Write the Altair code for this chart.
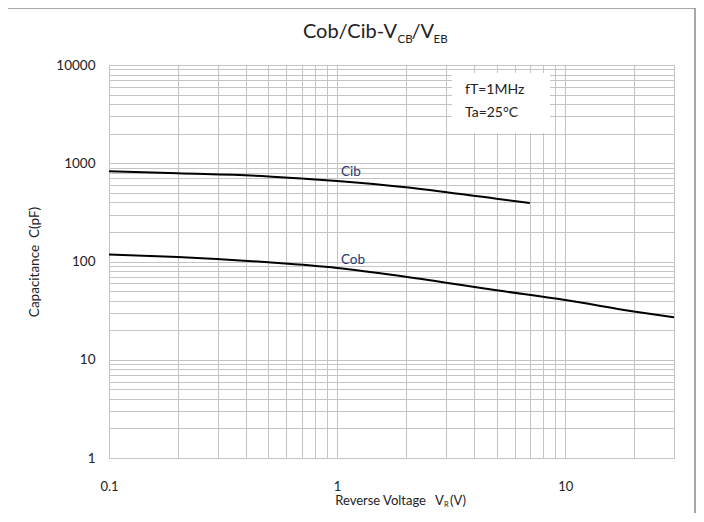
import altair as alt
import pandas as pd

# ---- data ----
cib_v = [0.1, 0.2, 0.5, 1, 2, 5, 7]
cib_c = [830, 790, 735, 660, 570, 435, 395]
cob_v = [0.1, 0.2, 0.5, 1, 2, 5, 10, 20, 30]
cob_c = [118, 111, 98, 86, 70, 51, 40.5, 31, 27]

x_grid = [0.1, 0.2, 0.3, 0.4, 0.5, 0.6, 0.7, 0.8, 0.9,
          1, 2, 3, 4, 5, 6, 7, 8, 9, 10, 20, 30]
y_grid = [1, 2, 3, 4, 5, 6, 7, 8, 9,
          10, 20, 30, 40, 50, 60, 70, 80, 90,
          100, 200, 300, 400, 500, 600, 700, 800, 900,
          1000, 2000, 3000, 4000, 5000, 6000, 7000, 8000, 9000, 10000]
x_labels = [0.1, 1, 10]
y_labels = [1, 10, 100, 1000, 10000]

curve_names = ["Cib", "Cob"]
curve_label_v = [1.04, 1.04]
curve_label_c = [815, 103]

FONT = "Lato"
TXT = "#222222"
NAVY = "#1f3a6e"
NB = "\u00a0"

curves = pd.DataFrame(
    {"series": ["Cib"] * len(cib_v) + ["Cob"] * len(cob_v),
     "V": cib_v + cob_v,
     "C": cib_c + cob_c}
)
labels_df = pd.DataFrame({"name": curve_names, "V": curve_label_v, "C": curve_label_c})
one = pd.DataFrame({"k": [0]})

x_expr = " || ".join(f"datum.value == {v}" for v in x_labels)
y_expr = " || ".join(f"datum.value == {v}" for v in y_labels)

xscale = alt.Scale(type="log", domain=[0.1, 30], nice=False)
yscale = alt.Scale(type="log", domain=[1, 10000], nice=False)

xaxis = alt.Axis(values=x_grid, title=None, ticks=False, domain=False,
                 labelExpr=f"({x_expr}) ? format(datum.value, '~g') : ''",
                 labelOverlap=False, labelFlush=False, labelPadding=22,
                 labelFontSize=13, labelFont=FONT, labelColor=TXT,
                 gridColor="#c4c4c4", gridWidth=1)
yaxis = alt.Axis(values=y_grid, title=None, ticks=False, domain=False,
                 labelExpr=f"({y_expr}) ? format(datum.value, 'd') : ''",
                 labelOverlap=False, labelFlush=False, labelPadding=14,
                 labelFontSize=13.5, labelFont=FONT, labelColor=TXT,
                 gridColor="#c4c4c4", gridWidth=1)

lines = alt.Chart(curves).mark_line(color="black", strokeWidth=2, interpolate="monotone").encode(
    x=alt.X("V:Q", scale=xscale, axis=xaxis),
    y=alt.Y("C:Q", scale=yscale, axis=yaxis),
    detail="series:N",
)

curve_text = alt.Chart(labels_df).mark_text(align="left", baseline="middle", font=FONT,
                                             fontSize=13.5, color=NAVY).encode(
    x=alt.X("V:Q", scale=xscale), y=alt.Y("C:Q", scale=yscale), text="name:N"
)

def txt(text, x, y, size, align="left", baseline="alphabetic", angle=0, color=TXT):
    kw = dict(align=align, baseline=baseline, font=FONT, fontSize=size, color=color, text=text)
    if angle:
        kw["angle"] = angle
    return alt.Chart(one).mark_text(**kw).encode(x=alt.value(x), y=alt.value(y))

# white box behind the conditions text
box = alt.Chart(one).mark_rect(color="white").encode(
    x=alt.value(343), x2=alt.value(441), y=alt.value(8), y2=alt.value(68))

# outer frame
frame = alt.Chart(one).mark_rect(filled=False, stroke="#8c8c8c", strokeWidth=1.5).encode(
    x=alt.value(-102), x2=alt.value(586), y=alt.value(-57), y2=alt.value(480))

layers = [
    box, lines, curve_text,
    txt("fT=1MHz", 356, 25, 14, baseline="middle"),
    txt("Ta=25°C", 356, 48, 14, baseline="middle"),
    # title with subscripts
    txt("Cob/Cib-V", 288, -27, 20, align="right"),
    txt("CB", 288.5, -22, 11.5),
    txt("/V", 302.5, -27, 20),
    txt("EB", 324.5, -22, 11.5),
    # x-axis title with subscript
    txt("Reverse Voltage", 317, 440, 13, align="right"),
    txt("V", 326, 440, 13),
    txt("R", 335, 442, 7.5),
    txt("(V)", 341, 440, 13),
    # y-axis title
    txt(f"Capacitance{NB}{NB}C(pF)", -74, 197, 13.5, align="center", baseline="middle", angle=270),
    frame,
]

chart = alt.layer(*layers).properties(
    width=565, height=393,
    autosize=alt.AutoSizeParams(type="none"),
    padding={"left": 101, "top": 57, "right": 22, "bottom": 55},
).configure_view(stroke="#9a9a9a", strokeWidth=1).configure(background="white")

chart.save("out.html", embed_options={"renderer": "svg", "actions": False})
